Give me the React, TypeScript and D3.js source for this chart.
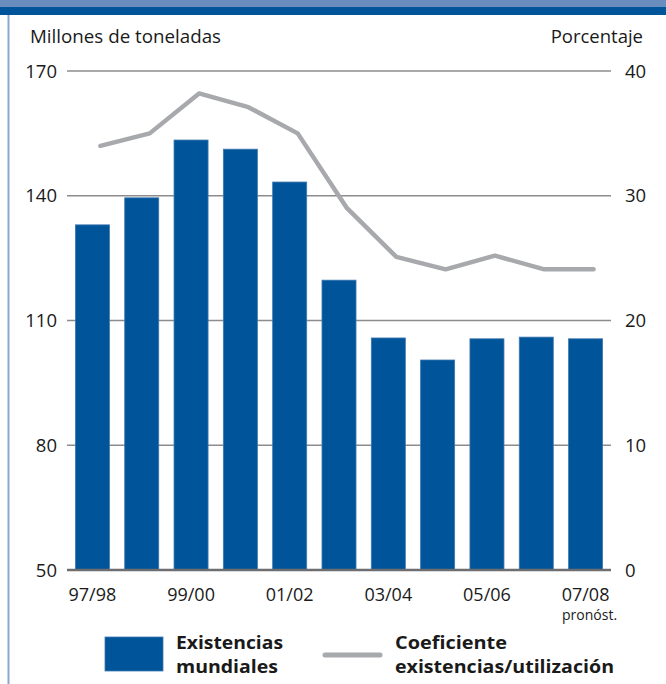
import React from "react";
import * as d3 from "d3";

const categories = ["97/98", "98/99", "99/00", "00/01", "01/02", "02/03", "03/04", "04/05", "05/06", "06/07", "07/08"];
const stocks = [133, 139.5, 153.4, 151.2, 143.3, 119.7, 105.8, 100.5, 105.6, 106, 105.6];
const ratio = [34, 35, 38.2, 37.1, 35, 29, 25.1, 24.1, 25.2, 24.1, 24.1];
const leftTicks = [50, 80, 110, 140, 170];
const rightTicks = [0, 10, 20, 30, 40];
const shownLabels = ["97/98", "99/00", "01/02", "03/04", "05/06", "07/08"];

const FONT = "'Open Sans', 'Noto Sans', sans-serif";
const BLUE = "#00559a";
const GRAY_LINE = "#a7a9ac";

export default function App() {
  const W = 666, H = 684;
  const x = d3.scaleBand<string>().domain(categories).range([68, 610]).paddingInner(0.31).paddingOuter(0.15);
  const yL = d3.scaleLinear().domain([50, 170]).range([570, 71]);
  const yR = d3.scaleLinear().domain([0, 40]).range([570, 71]);
  const line = d3.line<number>()
    .x((_, i) => (x(categories[i]) as number) + x.bandwidth() / 2 + 8)
    .y((d) => yR(d));

  return (
    <svg width={W} height={H} style={{ position: "absolute", left: 0, top: 0, background: "#fff" }} fontFamily={FONT}>
      <rect x={0} y={0} width={W} height={7} fill="#6a8dbf" />
      <rect x={0} y={7} width={W} height={8} fill="#00549a" />
      <line x1={8.5} x2={8.5} y1={15} y2={H} stroke="#8aa8cf" strokeWidth={2} />
      <text x={30} y={43} fontSize={18.5} fill="#1a1a1a" textLength={191} lengthAdjust="spacingAndGlyphs">Millones de toneladas</text>
      <text x={643} y={43} fontSize={18.5} fill="#1a1a1a" textAnchor="end">Porcentaje</text>
      {leftTicks.map((t) => (
        <g key={"l" + t}>
          {t !== 50 && <line x1={67} x2={611} y1={yL(t)} y2={yL(t)} stroke="#8c8c8c" strokeWidth={1.3} />}
          <text x={57} y={yL(t) + 6.5} fontSize={18.5} textAnchor="end" fill="#1a1a1a">{t}</text>
        </g>
      ))}
      {rightTicks.map((t) => (
        <text key={"r" + t} x={625} y={yR(t) + 6.5} fontSize={18.5} fill="#1a1a1a">{t}</text>
      ))}
      {stocks.map((v, i) => (
        <rect key={i} x={x(categories[i])} y={yL(v)} width={x.bandwidth()} height={yL(50) - yL(v)}
          fill={BLUE} stroke="#3f78b0" strokeWidth={0.8} />
      ))}
      <line x1={67} x2={611} y1={yL(50)} y2={yL(50)} stroke="#6d6e71" strokeWidth={2.5} />
      <path d={line(ratio) || ""} fill="none" stroke={GRAY_LINE} strokeWidth={4.5} strokeLinejoin="round" strokeLinecap="round" />
      {shownLabels.map((c) => (
        <text key={c} x={(x(c) as number) + x.bandwidth() / 2} y={601} fontSize={18} textAnchor="middle" fill="#1a1a1a">{c}</text>
      ))}
      <text x={(x("07/08") as number) + x.bandwidth() / 2 + 4} y={620} fontSize={14} textAnchor="middle" fill="#1a1a1a">pronóst.</text>
      <rect x={105} y={637} width={58} height={34} fill={BLUE} stroke="#3f78b0" strokeWidth={0.8} />
      <text x={176} y={649} fontSize={17.5} fontWeight="bold" fill="#1a1a1a" textLength={107} lengthAdjust="spacingAndGlyphs">Existencias</text>
      <text x={176} y={673} fontSize={17.5} fontWeight="bold" fill="#1a1a1a" textLength={102} lengthAdjust="spacingAndGlyphs">mundiales</text>
      <line x1={325} x2={380} y1={655} y2={655} stroke={GRAY_LINE} strokeWidth={5} strokeLinecap="round" />
      <text x={395} y={649} fontSize={17.5} fontWeight="bold" fill="#1a1a1a" textLength={112} lengthAdjust="spacingAndGlyphs">Coeficiente</text>
      <text x={395} y={673} fontSize={17.5} fontWeight="bold" fill="#1a1a1a" textLength={219} lengthAdjust="spacingAndGlyphs">existencias/utilización</text>
    </svg>
  );
}
